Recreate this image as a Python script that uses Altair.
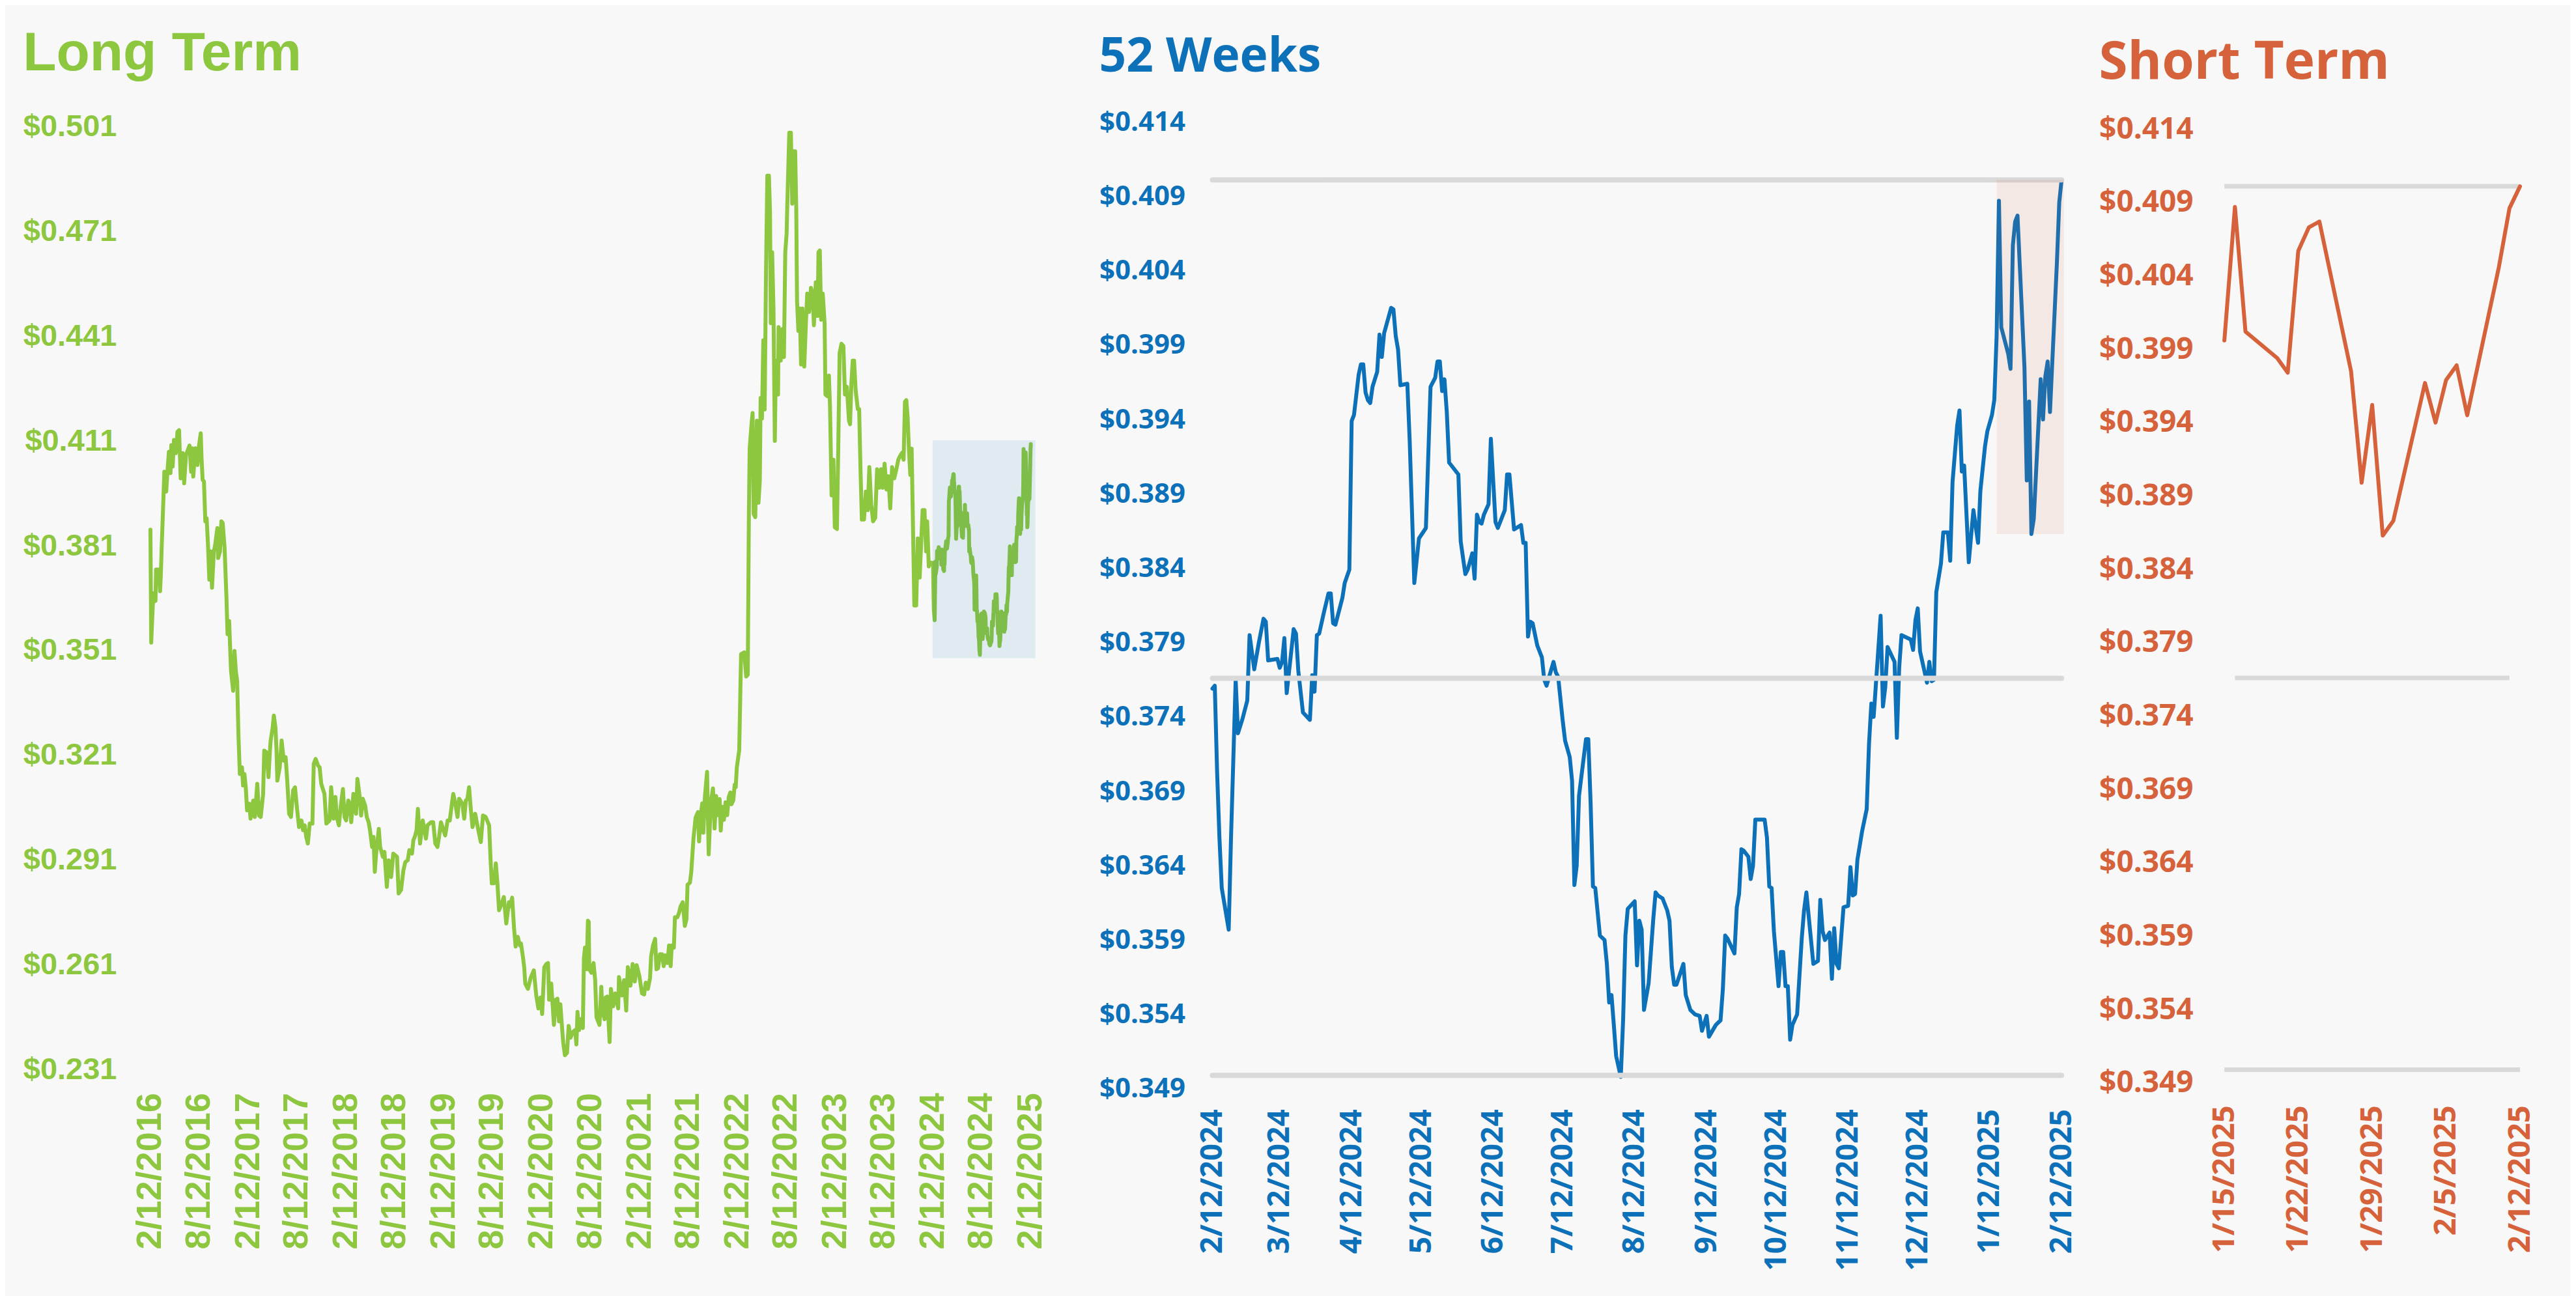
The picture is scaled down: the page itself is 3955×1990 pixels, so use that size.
import altair as alt
import pandas as pd

GREEN = "#8DC63F"
BLUE = "#0C71B9"
ORANGE = "#D5623A"
GREY = "#D9D9D9"
BG = "#F8F8F8"

# ---------------- data ----------------
# Long term: (days since lt_start, price) up to the start of the 52-week window
lt_start = "2016-02-12"
lt_points = [
    (0, 0.3856), (3, 0.3533), (9, 0.3642), (14, 0.3675), (19, 0.3652), (21, 0.3742), (31, 0.3742), (36, 0.3680),
    (39, 0.3728), (42, 0.3804), (46, 0.3889), (49, 0.3956), (52, 0.4022), (59, 0.3965), (64, 0.4027), (69, 0.4079),
    (75, 0.4018), (78, 0.4098), (83, 0.4037), (88, 0.4113), (95, 0.4075), (101, 0.4136), (107, 0.4141), (113, 0.4003),
    (121, 0.4075), (126, 0.3989), (133, 0.4070), (146, 0.4097), (152, 0.4022), (155, 0.4089), (160, 0.4008), (168, 0.4089),
    (176, 0.4041), (181, 0.4094), (188, 0.4132), (191, 0.4060), (195, 0.3999), (200, 0.3994), (205, 0.3880), (210, 0.3889),
    (215, 0.3813), (220, 0.3713), (225, 0.3794), (230, 0.3690), (237, 0.3794), (242, 0.3813), (250, 0.3861), (253, 0.3775),
    (260, 0.3794), (265, 0.3880), (270, 0.3875), (277, 0.3804), (284, 0.3661), (288, 0.3557), (294, 0.3595), (301, 0.3452),
    (309, 0.3395), (314, 0.3509), (319, 0.3452), (324, 0.3423), (329, 0.3262), (334, 0.3157), (342, 0.3176), (346, 0.3124),
    (351, 0.3157), (356, 0.3119), (361, 0.3053), (369, 0.3072), (374, 0.3029), (384, 0.3081), (390, 0.3034), (399, 0.3129),
    (406, 0.3038), (412, 0.3034), (421, 0.3100), (425, 0.3224), (433, 0.3219), (441, 0.3148), (446, 0.3219), (449, 0.3253),
    (456, 0.3286), (461, 0.3324), (467, 0.3290), (471, 0.3224), (474, 0.3138), (483, 0.3176), (490, 0.3253), (498, 0.3195),
    (505, 0.3205), (511, 0.3138), (518, 0.3043), (525, 0.3034), (533, 0.3110), (540, 0.3119), (547, 0.3062), (555, 0.3005),
    (564, 0.3024), (570, 0.2996), (576, 0.3010), (582, 0.2977), (588, 0.2958), (595, 0.3015), (605, 0.3015), (610, 0.3186),
    (617, 0.3200), (626, 0.3181), (632, 0.3176), (638, 0.3129), (644, 0.3114), (650, 0.3100), (657, 0.3015), (669, 0.3024),
    (675, 0.3119), (684, 0.3029), (691, 0.3091), (696, 0.3034), (704, 0.3010), (712, 0.3072), (719, 0.3114), (725, 0.3034),
    (731, 0.3024), (739, 0.3081), (744, 0.3072), (750, 0.3019), (758, 0.3100), (768, 0.3043), (773, 0.3143), (781, 0.3095),
    (787, 0.3038), (793, 0.3086), (802, 0.3067), (808, 0.3034), (815, 0.3019), (820, 0.2996), (828, 0.2948), (833, 0.2977),
    (838, 0.2877), (843, 0.2929), (853, 0.3000), (858, 0.2948), (868, 0.2920), (874, 0.2934), (883, 0.2834), (890, 0.2910),
    (899, 0.2862), (907, 0.2929), (921, 0.2920), (927, 0.2815), (936, 0.2825), (945, 0.2882), (952, 0.2905), (961, 0.2910),
    (967, 0.2939), (977, 0.2929), (982, 0.2967), (989, 0.2981), (994, 0.2996), (999, 0.3057), (1007, 0.2958), (1017, 0.3024),
    (1029, 0.2972), (1035, 0.3010), (1048, 0.3019), (1056, 0.3019), (1064, 0.2958), (1072, 0.2948), (1078, 0.2977), (1085, 0.3019),
    (1091, 0.3005), (1101, 0.2981), (1110, 0.3024), (1118, 0.3024), (1126, 0.3072), (1131, 0.3100), (1138, 0.3076), (1147, 0.3034),
    (1153, 0.3086), (1165, 0.3072), (1172, 0.3029), (1178, 0.3081), (1184, 0.3086), (1190, 0.3119), (1196, 0.3062), (1203, 0.3005),
    (1213, 0.3043), (1221, 0.3010), (1234, 0.2962), (1242, 0.3038), (1252, 0.3034), (1265, 0.3010), (1271, 0.2901), (1275, 0.2844),
    (1283, 0.2844), (1290, 0.2901), (1296, 0.2844), (1302, 0.2767), (1312, 0.2786), (1320, 0.2805), (1329, 0.2729), (1339, 0.2790),
    (1343, 0.2778), (1351, 0.2803), (1358, 0.2716), (1364, 0.2663), (1372, 0.2691), (1380, 0.2666), (1384, 0.2672), (1392, 0.2629),
    (1396, 0.2604), (1400, 0.2557), (1410, 0.2542), (1420, 0.2573), (1432, 0.2595), (1441, 0.2523), (1449, 0.2486), (1457, 0.2517),
    (1463, 0.2470), (1471, 0.2604), (1479, 0.2613), (1485, 0.2616), (1489, 0.2511), (1497, 0.2557), (1507, 0.2439), (1514, 0.2511),
    (1520, 0.2514), (1526, 0.2449), (1531, 0.2498), (1538, 0.2424), (1542, 0.2386), (1548, 0.2352), (1556, 0.2359), (1562, 0.2436),
    (1569, 0.2402), (1577, 0.2418), (1586, 0.2424), (1591, 0.2383), (1595, 0.2476), (1601, 0.2424), (1607, 0.2455), (1615, 0.2430),
    (1619, 0.2629), (1623, 0.2660), (1629, 0.2598), (1634, 0.2737), (1637, 0.2734), (1639, 0.2598), (1647, 0.2588), (1655, 0.2616),
    (1661, 0.2567), (1666, 0.2461), (1672, 0.2449), (1677, 0.2439), (1684, 0.2548), (1688, 0.2480), (1696, 0.2455), (1700, 0.2517),
    (1706, 0.2520), (1715, 0.2390), (1720, 0.2542), (1728, 0.2492), (1736, 0.2529), (1747, 0.2486), (1750, 0.2576), (1761, 0.2523),
    (1769, 0.2567), (1777, 0.2480), (1783, 0.2604), (1793, 0.2551), (1801, 0.2613), (1809, 0.2563), (1816, 0.2610), (1826, 0.2579),
    (1836, 0.2529), (1844, 0.2526), (1850, 0.2560), (1858, 0.2542), (1866, 0.2573), (1870, 0.2635), (1877, 0.2666), (1885, 0.2685),
    (1890, 0.2598), (1896, 0.2601), (1903, 0.2641), (1911, 0.2641), (1917, 0.2607), (1923, 0.2638), (1931, 0.2616), (1937, 0.2666),
    (1943, 0.2607), (1947, 0.2666), (1955, 0.2660), (1959, 0.2747), (1968, 0.2747), (1974, 0.2759), (1980, 0.2778), (1988, 0.2790),
    (1996, 0.2722), (2002, 0.2741), (2006, 0.2840), (2015, 0.2846), (2020, 0.2877), (2028, 0.2970), (2036, 0.3032), (2045, 0.3048),
    (2049, 0.2964), (2055, 0.3039), (2061, 0.3073), (2065, 0.2989), (2071, 0.3094), (2079, 0.3163), (2085, 0.2927), (2093, 0.3076),
    (2101, 0.3116), (2107, 0.3001), (2113, 0.3094), (2120, 0.3039), (2126, 0.3085), (2130, 0.2995), (2136, 0.3063), (2142, 0.3026),
    (2148, 0.3076), (2154, 0.3039), (2160, 0.3091), (2166, 0.3104), (2170, 0.3070), (2177, 0.3082), (2182, 0.3126), (2186, 0.3119),
    (2190, 0.3175), (2199, 0.3225), (2206, 0.3500), (2218, 0.3505), (2225, 0.3436), (2231, 0.3441), (2235, 0.3890), (2238, 0.4088),
    (2245, 0.4158), (2249, 0.4190), (2253, 0.3901), (2259, 0.3892), (2265, 0.4168), (2271, 0.3933), (2276, 0.3997), (2279, 0.4233),
    (2284, 0.4174), (2289, 0.4398), (2294, 0.4200), (2299, 0.4586), (2304, 0.4869), (2310, 0.4869), (2314, 0.4767), (2317, 0.4447),
    (2322, 0.4650), (2327, 0.4489), (2332, 0.4110), (2336, 0.4340), (2344, 0.4243), (2346, 0.4436), (2354, 0.4340), (2359, 0.4430),
    (2366, 0.4350), (2371, 0.4650), (2376, 0.4703), (2379, 0.4799), (2386, 0.4992), (2392, 0.4992), (2397, 0.4789), (2402, 0.4939),
    (2408, 0.4939), (2412, 0.4778), (2415, 0.4511), (2420, 0.4425), (2425, 0.4489), (2430, 0.4329), (2435, 0.4489), (2442, 0.4323),
    (2448, 0.4446), (2453, 0.4532), (2460, 0.4479), (2467, 0.4548), (2473, 0.4532), (2478, 0.4441), (2485, 0.4564), (2492, 0.4468),
    (2495, 0.4650), (2500, 0.4655), (2505, 0.4457), (2511, 0.4532), (2518, 0.4446), (2521, 0.4243), (2528, 0.4238), (2534, 0.4297),
    (2538, 0.4211), (2544, 0.3954), (2551, 0.4056), (2556, 0.3863), (2564, 0.3858), (2569, 0.4094), (2574, 0.4361), (2581, 0.4388),
    (2588, 0.4382), (2594, 0.4243), (2601, 0.4265), (2609, 0.4168), (2613, 0.4158), (2618, 0.4275), (2623, 0.4340), (2628, 0.4340),
    (2634, 0.4254), (2642, 0.4201), (2647, 0.4201), (2652, 0.4029), (2657, 0.3885), (2665, 0.3885), (2672, 0.3965), (2679, 0.3912),
    (2685, 0.4035), (2692, 0.3928), (2699, 0.3880), (2707, 0.3890), (2714, 0.4029), (2722, 0.3976), (2729, 0.4029), (2735, 0.3976),
    (2742, 0.4045), (2749, 0.3971), (2756, 0.4009), (2763, 0.3917), (2770, 0.4035), (2778, 0.4003), (2786, 0.4029), (2793, 0.4056),
    (2800, 0.4067), (2808, 0.4077), (2813, 0.4056), (2818, 0.4222), (2823, 0.4227), (2828, 0.4179), (2833, 0.4083), (2838, 0.4013),
    (2843, 0.4088), (2846, 0.3954), (2853, 0.3639), (2860, 0.3639), (2866, 0.3831), (2873, 0.3719), (2879, 0.3826), (2884, 0.3912),
    (2891, 0.3912), (2897, 0.3794), (2901, 0.3880), (2907, 0.3751), (2914, 0.3762),
]

# 52 weeks: (days since w52_start, price) up to the start of the short-term window
w52_start = "2024-02-12"
w52_points = [
    (0, 0.3759), (1, 0.3761), (2, 0.3703), (3, 0.3659), (4, 0.3625), (7, 0.3597), (8, 0.3659), (10, 0.3765), (11, 0.3729),
    (13, 0.3739), (15, 0.3751), (16, 0.3795), (18, 0.3772), (20, 0.3790), (22, 0.3806), (23, 0.3804), (24, 0.3778), (28, 0.3779),
    (29, 0.3773), (30, 0.3777), (31, 0.3793), (32, 0.3756), (35, 0.3799), (36, 0.3796), (37, 0.3771), (39, 0.3743), (42, 0.3738),
    (43, 0.3768), (44, 0.3757), (45, 0.3795), (46, 0.3796), (48, 0.3810), (50, 0.3823), (51, 0.3823), (52, 0.3803), (53, 0.3802),
    (56, 0.3820), (57, 0.3830), (59, 0.3839), (60, 0.3939), (61, 0.3943), (63, 0.3970), (64, 0.3977), (65, 0.3977), (66, 0.3958),
    (67, 0.3953), (68, 0.3951), (69, 0.3962), (71, 0.3972), (72, 0.3997), (73, 0.3982), (74, 0.3998), (77, 0.4015), (78, 0.4014),
    (79, 0.3996), (80, 0.3987), (81, 0.3963), (84, 0.3964), (85, 0.3926), (87, 0.3830), (89, 0.3860), (92, 0.3867), (94, 0.3962),
    (96, 0.3968), (97, 0.3979), (98, 0.3979), (99, 0.3959), (100, 0.3967), (101, 0.3945), (102, 0.3911), (106, 0.3903), (107, 0.3858),
    (109, 0.3836), (110, 0.3839), (112, 0.3850), (113, 0.3833), (114, 0.3876), (115, 0.3871), (116, 0.3870), (117, 0.3876), (119, 0.3883),
    (120, 0.3927), (122, 0.3871), (123, 0.3867), (126, 0.3879), (127, 0.3903), (128, 0.3903), (130, 0.3866), (133, 0.3869), (134, 0.3857),
    (135, 0.3857), (136, 0.3794), (137, 0.3804), (138, 0.3803), (140, 0.3788), (142, 0.3780), (143, 0.3765), (144, 0.3761), (147, 0.3777),
    (148, 0.3770), (149, 0.3767), (151, 0.3737), (152, 0.3724), (154, 0.3713), (155, 0.3697), (156, 0.3627), (157, 0.3640), (158, 0.3687),
    (161, 0.3725), (162, 0.3725), (163, 0.3682), (164, 0.3626), (165, 0.3625), (167, 0.3593), (169, 0.3590), (170, 0.3574), (171, 0.3548),
    (172, 0.3553), (173, 0.3533), (174, 0.3512), (176, 0.3498), (177, 0.3536), (178, 0.3593), (179, 0.3611), (182, 0.3616), (183, 0.3573),
    (184, 0.3603), (185, 0.3597), (186, 0.3543), (188, 0.3561), (190, 0.3604), (191, 0.3622), (192, 0.3620), (194, 0.3618), (196, 0.3610),
    (197, 0.3603), (198, 0.3572), (199, 0.3560), (200, 0.3560), (203, 0.3574), (204, 0.3553), (206, 0.3543), (208, 0.3540), (210, 0.3539),
    (211, 0.3529), (213, 0.3539), (214, 0.3525), (217, 0.3533), (219, 0.3536), (220, 0.3557), (221, 0.3593), (222, 0.3591), (225, 0.3581),
    (226, 0.3612), (227, 0.3621), (228, 0.3651), (229, 0.3650), (231, 0.3646), (232, 0.3631), (233, 0.3640), (234, 0.3671), (238, 0.3671),
    (239, 0.3659), (240, 0.3626), (241, 0.3625), (242, 0.3596), (244, 0.3559), (245, 0.3582), (246, 0.3582), (247, 0.3559), (248, 0.3559),
    (249, 0.3523), (250, 0.3533), (252, 0.3540), (254, 0.3591), (255, 0.3610), (256, 0.3622), (259, 0.3574), (261, 0.3576), (262, 0.3617),
    (263, 0.3596), (264, 0.3590), (266, 0.3595), (267, 0.3564), (268, 0.3598), (269, 0.3574), (270, 0.3571), (272, 0.3612), (274, 0.3613),
    (275, 0.3639), (276, 0.3620), (277, 0.3621), (278, 0.3644), (280, 0.3663), (282, 0.3678), (283, 0.3722), (284, 0.3749), (285, 0.3740),
    (288, 0.3808), (289, 0.3747), (290, 0.3760), (291, 0.3787), (294, 0.3777), (295, 0.3726), (296, 0.3773), (297, 0.3795), (301, 0.3792),
    (302, 0.3785), (303, 0.3805), (304, 0.3813), (305, 0.3784), (308, 0.3763), (309, 0.3777), (310, 0.3764), (311, 0.3765), (312, 0.3824),
    (314, 0.3843), (315, 0.3864), (317, 0.3864), (318, 0.3845), (319, 0.3898), (321, 0.3936), (322, 0.3946), (323, 0.3905), (324, 0.3909),
    (326, 0.3844), (328, 0.3879), (330, 0.3857), (331, 0.3892), (333, 0.3922), (334, 0.3932), (336, 0.3943), (337, 0.3953),
]

# Short term (daily closes)
st_dates = ["2025-01-15", "2025-01-16", "2025-01-17", "2025-01-20", "2025-01-21", "2025-01-22", "2025-01-23",
            "2025-01-24", "2025-01-27", "2025-01-28", "2025-01-29", "2025-01-30", "2025-01-31", "2025-02-03",
            "2025-02-04", "2025-02-05", "2025-02-06", "2025-02-07", "2025-02-10", "2025-02-11", "2025-02-12"]
st_price = [0.3996, 0.4087, 0.4002, 0.3984, 0.3974, 0.4057, 0.4073, 0.4077, 0.3975, 0.3899, 0.3952,
            0.3863, 0.3873, 0.3967, 0.3940, 0.3969, 0.3979, 0.3945, 0.4046, 0.4086, 0.4101]

# reference levels (52-week high / middle / low)
ref_high = 0.4101
ref_mid = 0.3766
ref_low = 0.3499

# tick labels
lt_yticks = [0.231, 0.261, 0.291, 0.321, 0.351, 0.381, 0.411, 0.441, 0.471, 0.501]
w_yticks = [0.349, 0.354, 0.359, 0.364, 0.369, 0.374, 0.379, 0.384, 0.389, 0.394, 0.399, 0.404, 0.409, 0.414]
lt_xticks = ["2016-02-12", "2016-08-12", "2017-02-12", "2017-08-12", "2018-02-12", "2018-08-12", "2019-02-12",
             "2019-08-12", "2020-02-12", "2020-08-12", "2021-02-12", "2021-08-12", "2022-02-12", "2022-08-12",
             "2023-02-12", "2023-08-12", "2024-02-12", "2024-08-12", "2025-02-12"]
w52_xticks = ["2024-02-12", "2024-03-12", "2024-04-12", "2024-05-12", "2024-06-12", "2024-07-12", "2024-08-12",
              "2024-09-12", "2024-10-12", "2024-11-12", "2024-12-12", "2025-01-12", "2025-02-12"]
st_xticks = ["2025-01-15", "2025-01-22", "2025-01-29", "2025-02-05", "2025-02-12"]


# ---------------- frames ----------------
def from_offsets(start, pts):
    s = pd.Timestamp(start)
    return pd.DataFrame({"date": [s + pd.Timedelta(days=d) for d, _ in pts],
                         "price": [p for _, p in pts]})


st_df = pd.DataFrame({"date": pd.to_datetime(st_dates), "price": st_price})
w52_df = pd.concat([from_offsets(w52_start, w52_points), st_df], ignore_index=True)
lt_df = pd.concat([from_offsets(lt_start, lt_points), w52_df], ignore_index=True)


def dt(s, hours=0):
    t = pd.Timestamp(s)
    return alt.DateTime(year=t.year, month=t.month, date=t.day, hours=hours)


def x_axis(font, size, color, ticks, pad):
    return alt.Axis(values=[dt(t) for t in ticks], format="%-m/%-d/%Y", labelAngle=270,
                    labelFont=font, labelFontSize=size, labelFontWeight="bold", labelColor=color,
                    labelPadding=pad, labelOverlap=False, labelFlush=False, labelBound=False,
                    labelLimit=600, domain=False, ticks=False, grid=False, title=None)


def y_axis(font, size, color, ticks, pad):
    return alt.Axis(values=ticks, format="$.3f", labelFont=font, labelFontSize=size,
                    labelFontWeight="bold", labelColor=color, labelPadding=pad, labelLimit=600,
                    labelOverlap=False, labelFlush=False, domain=False, ticks=False,
                    grid=False, title=None)


H = 1485
SANS = "Liberation Sans"
SEGOE = "Open Sans"

# ---------------- Long term ----------------
lt_x = alt.X("date:T", scale=alt.Scale(domain=[dt("2016-02-12"), dt("2025-04-23", 12)]),
             axis=x_axis(SANS, 54, GREEN, lt_xticks, 6))
lt_y = alt.Y("price:Q", scale=alt.Scale(domain=[0.2256, 0.5023], nice=False, zero=False),
             axis=y_axis(SANS, 47, GREEN, lt_yticks, 52))
lt_line = alt.Chart(lt_df).mark_line(color=GREEN, strokeWidth=6, strokeJoin="round",
                                     strokeCap="round").encode(x=lt_x, y=lt_y)
lt_box_df = pd.DataFrame({"date": [pd.Timestamp("2024-02-11")], "date2": [pd.Timestamp("2025-03-01")],
                          "price": [0.3488], "price2": [0.4112]})
lt_box = alt.Chart(lt_box_df).mark_rect(color=BLUE, opacity=0.1).encode(
    x="date:T", x2="date2:T", y="price:Q", y2="price2:Q")
lt_chart = alt.layer(lt_line, lt_box).properties(
    width=1381, height=H,
    title=alt.TitleParams("Long Term", anchor="start", frame="bounds", font=SANS, fontSize=84,
                          fontWeight="bold", color=GREEN, offset=44))

# ---------------- 52 weeks ----------------
w_x = alt.X("date:T", scale=alt.Scale(domain=[dt("2024-02-12"), dt("2025-02-12")]),
            axis=x_axis(SEGOE, 46, BLUE, w52_xticks, 31))
w_y = alt.Y("price:Q", scale=alt.Scale(domain=[0.349, 0.414], nice=False, zero=False),
            axis=y_axis(SEGOE, 42, BLUE, w_yticks, 42))
w_refs = pd.DataFrame({"date": [pd.Timestamp("2024-02-12")] * 3, "date2": [pd.Timestamp("2025-02-12")] * 3,
                       "price": [ref_high, ref_mid, ref_low]})
w_rules = alt.Chart(w_refs).mark_rule(color=GREY, strokeWidth=8, strokeCap="round").encode(
    x="date:T", x2="date2:T", y="price:Q")
w_line = alt.Chart(w52_df).mark_line(color=BLUE, strokeWidth=6, strokeJoin="round",
                                     strokeCap="round").encode(x=w_x, y=w_y)
w_box_df = pd.DataFrame({"date": [pd.Timestamp("2025-01-15")], "date2": [pd.Timestamp("2025-02-13")],
                         "price": [min(st_price)], "price2": [ref_high]})
w_box = alt.Chart(w_box_df).mark_rect(color=ORANGE, opacity=0.1).encode(
    x="date:T", x2="date2:T", y="price:Q", y2="price2:Q")
w_chart = alt.layer(w_line, w_rules, w_box).properties(
    width=1304, height=H,
    title=alt.TitleParams("52 Weeks", anchor="start", frame="bounds", font=SEGOE, fontSize=73,
                          fontWeight="bold", color=BLUE, offset=41))

# ---------------- short term ----------------
s_x = alt.X("date:T", scale=alt.Scale(domain=[dt("2025-01-15"), dt("2025-02-12")]),
            axis=x_axis(SEGOE, 47, ORANGE, st_xticks, 25))
s_y = alt.Y("price:Q", scale=alt.Scale(domain=[0.3486, 0.41449], nice=False, zero=False),
            axis=y_axis(SEGOE, 46, ORANGE, w_yticks, 48))
s_refs = pd.DataFrame({"date": [pd.Timestamp("2025-01-15"), pd.Timestamp("2025-01-16"), pd.Timestamp("2025-01-15")],
                       "date2": [pd.Timestamp("2025-02-12"), pd.Timestamp("2025-02-11"), pd.Timestamp("2025-02-12")],
                       "price": [ref_high, ref_mid, ref_low]})
s_rules = alt.Chart(s_refs).mark_rule(color=GREY, strokeWidth=7, strokeCap="butt").encode(
    x="date:T", x2="date2:T", y="price:Q")
s_line = alt.Chart(st_df).mark_line(color=ORANGE, strokeWidth=6, strokeJoin="round",
                                    strokeCap="round").encode(x=s_x, y=s_y)
s_chart = alt.layer(s_rules, s_line).properties(
    width=454, height=H,
    title=alt.TitleParams("Short Term", anchor="start", frame="bounds", font=SEGOE, fontSize=80,
                          fontWeight="bold", color=ORANGE, offset=37))

chart = alt.hconcat(lt_chart, w_chart, s_chart, spacing=250, bounds="flush").configure(
    background=BG, padding={"left": 27, "top": 32, "right": 55, "bottom": 45}
).configure_view(stroke=None)

chart.save("out.html", embed_options={"renderer": "svg", "actions": False})
